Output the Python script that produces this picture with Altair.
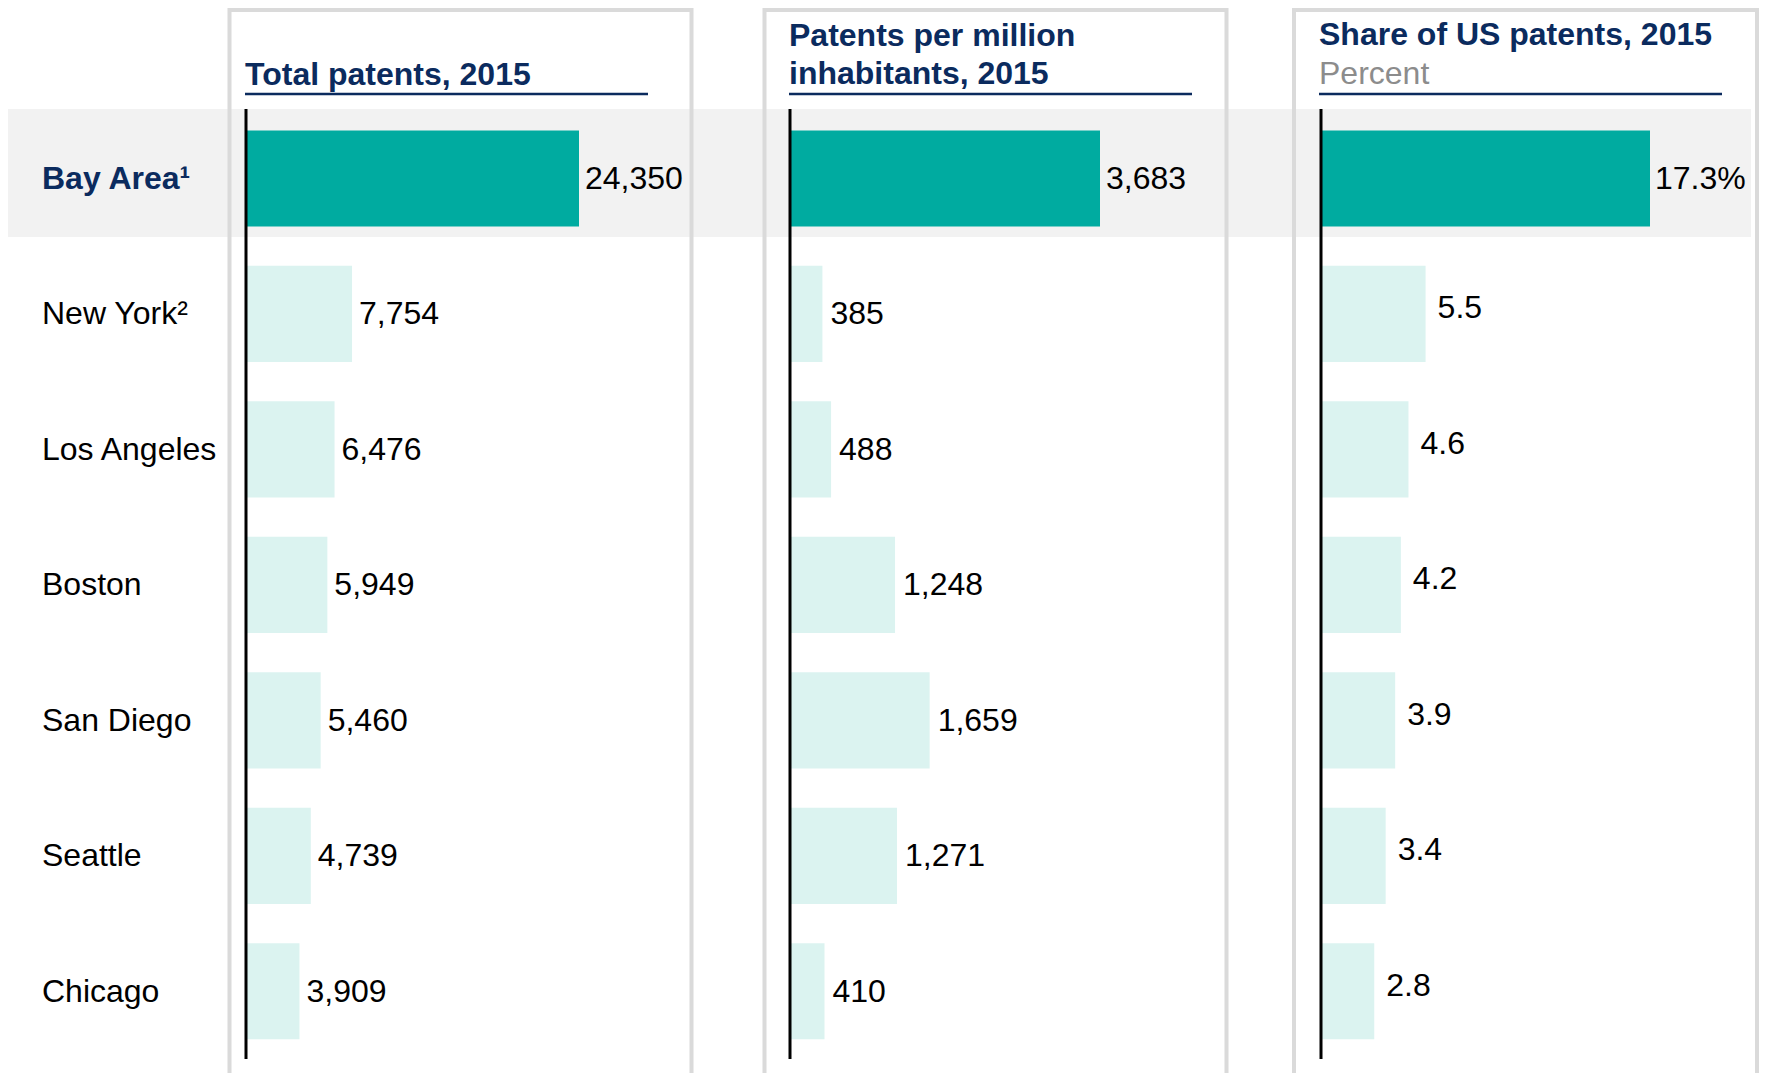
import altair as alt
import pandas as pd

# ---- data ----
cities = ["Bay Area¹", "New York²", "Los Angeles", "Boston", "San Diego", "Seattle", "Chicago"]
total_patents = [24350, 7754, 6476, 5949, 5460, 4739, 3909]
per_million = [3683, 385, 488, 1248, 1659, 1271, 410]
share_pct = [17.3, 5.5, 4.6, 4.2, 3.9, 3.4, 2.8]
share_labels = ["17.3%", "5.5", "4.6", "4.2", "3.9", "3.4", "2.8"]
highlight_city = "Bay Area¹"

FONT = "Liberation Sans, Arial, sans-serif"
NAVY = "#0b2b5e"
TEAL = "#00aba0"
LIGHT = "#dbf3f0"
BAND = "#f2f2f2"
BORDER = "#dadada"
FS = 32
DY = 0.3


def panel_df(values, labels):
    return pd.DataFrame({
        "city": cities,
        "value": values,
        "label": labels,
        "hl": ["yes" if c == highlight_city else "no" for c in cities],
    })


df1 = panel_df(total_patents, [f"{v:,}" for v in total_patents])
df2 = panel_df(per_million, [f"{v:,}" for v in per_million])
df3 = panel_df(share_pct, share_labels)
cat_df = pd.DataFrame({"city": cities})

yscale = alt.Scale(domain=cities, range=[102.75, 1051], paddingInner=0.29, paddingOuter=0.145)
Y = alt.Y("city:N", sort=cities, scale=yscale, axis=None)
color = alt.Color("hl:N", scale=alt.Scale(domain=["yes", "no"], range=[TEAL, LIGHT]), legend=None)

one = pd.DataFrame({"a": [0]})


def panel(df, dom_max, rng, dx_hl, dx_other, dy_other):
    X = alt.X("value:Q", scale=alt.Scale(domain=[0, dom_max], range=rng), axis=None)
    base = alt.Chart(df)
    bars = base.mark_bar().encode(x=X, y=Y, color=color)
    lab_hl = base.transform_filter(alt.datum.hl == "yes").mark_text(
        align="left", baseline="middle", dx=dx_hl, dy=DY, font=FONT, fontSize=FS, color="#000000"
    ).encode(x=X, y=Y, text="label:N")
    lab_other = base.transform_filter(alt.datum.hl == "no").mark_text(
        align="left", baseline="middle", dx=dx_other, dy=dy_other + DY, font=FONT, fontSize=FS, color="#000000"
    ).encode(x=X, y=Y, text="label:N")
    axis_rule = alt.Chart(one).mark_rule(color="#000000", strokeWidth=3).encode(
        x=alt.X("zero:Q", scale=alt.Scale(domain=[0, dom_max], range=rng), axis=None),
        y=alt.value(101), y2=alt.value(1051)
    ).transform_calculate(zero="0")
    return alt.layer(bars, lab_hl, lab_other, axis_rule)


p1 = panel(df1, 24350, [238, 571], 6, 7, 0)
p2 = panel(df2, 3683, [782, 1092], 6, 8, 0)
p3 = panel(df3, 17.3, [1313, 1642], 5, 12, -6)

band = alt.Chart(one).mark_rect(color=BAND).encode(
    x=alt.value(0), x2=alt.value(1743), y=alt.value(101), y2=alt.value(229)
)

boxes = []
for (l, r) in [(221.5, 683.5), (756.5, 1218.5), (1286, 1749)]:
    boxes.append(alt.Chart(one).mark_rect(fill="transparent", stroke=BORDER, strokeWidth=4).encode(
        x=alt.value(l), x2=alt.value(r), y=alt.value(2), y2=alt.value(1200)
    ))

cat_hl = alt.Chart(cat_df).transform_filter(alt.datum.city == highlight_city).mark_text(
    align="left", baseline="middle", dy=DY, font=FONT, fontSize=FS, fontWeight="bold", color=NAVY
).encode(y=Y, x=alt.value(34), text="city:N")
cat_other = alt.Chart(cat_df).transform_filter(alt.datum.city != highlight_city).mark_text(
    align="left", baseline="middle", dy=DY, font=FONT, fontSize=FS, color="#000000"
).encode(y=Y, x=alt.value(34), text="city:N")


def title_text(txt, x, y, bold=True, col=NAVY):
    return alt.Chart(one).mark_text(
        text=txt, align="left", baseline="alphabetic", font=FONT, fontSize=FS,
        fontWeight="bold" if bold else "normal", color=col
    ).encode(x=alt.value(x), y=alt.value(y))


titles = [
    title_text("Total patents, 2015", 237, 77),
    title_text("Patents per million", 781, 38),
    title_text("inhabitants, 2015", 781, 76),
    title_text("Share of US patents, 2015", 1311, 37),
    title_text("Percent", 1311, 76, bold=False, col="#8c8c8c"),
]

underlines = []
for (l, r) in [(237, 640), (781, 1184), (1311, 1714)]:
    underlines.append(alt.Chart(one).mark_rule(color=NAVY, strokeWidth=2.5).encode(
        x=alt.value(l), x2=alt.value(r), y=alt.value(86)
    ))

chart = alt.layer(
    band, *boxes, p1, p2, p3, cat_hl, cat_other, *titles, *underlines
).resolve_scale(x="independent").properties(
    width=1751, height=1065, autosize=alt.AutoSizeParams(type="none"), padding=0
).configure_view(stroke=None)

chart.save("out.html", embed_options={"renderer": "svg", "actions": False})
